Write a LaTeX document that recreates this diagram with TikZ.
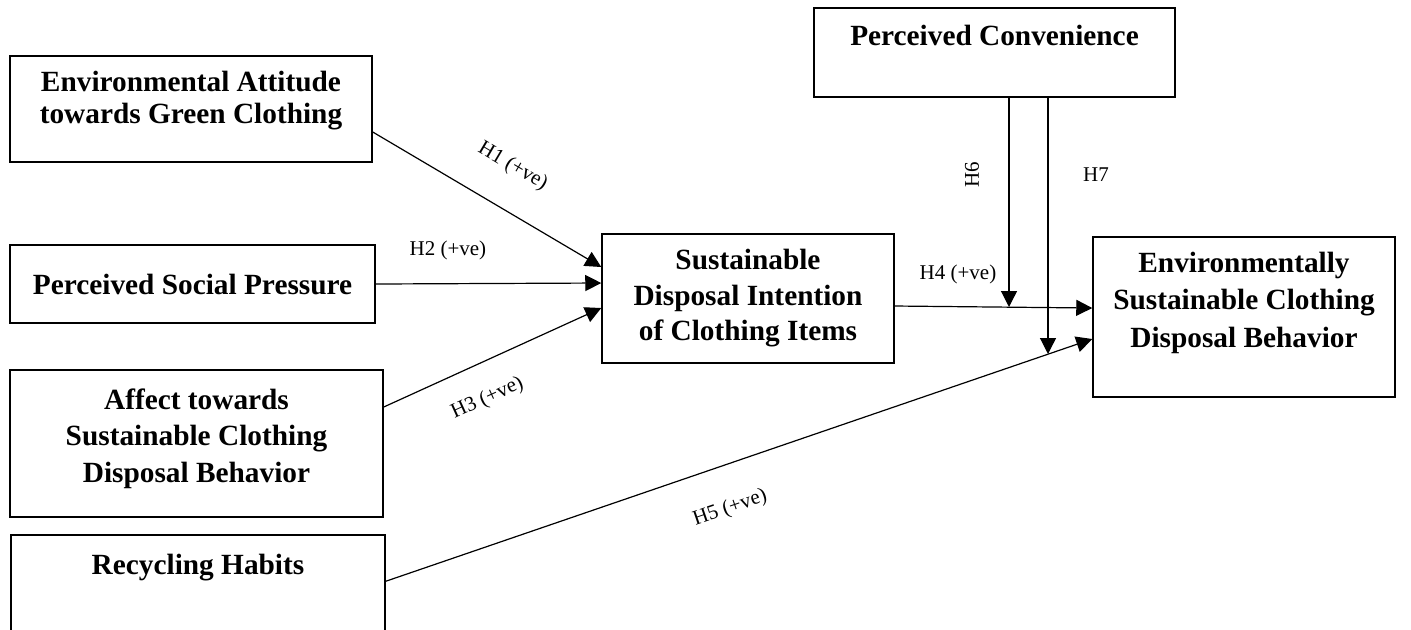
\documentclass[tikz,border=0pt]{standalone}
\usepackage{fontspec}
\setmainfont{Liberation Serif}
\usetikzlibrary{arrows.meta,calc}
\newcommand{\dropby}[1]{\rule[-#1]{0pt}{#1}}

\begin{document}
\begin{tikzpicture}[x=0.5pt,y=-0.5pt,
    box/.style={draw,line width=0.75pt,align=center,inner sep=0pt},
    leading/.style={font=\bfseries\fontsize{14.66}{#1}\selectfont},
    arr/.style={line width=0.6pt,-{Triangle[length=8pt,width=8pt]}},
    hyp/.style={inner sep=0pt,font=\fontsize{10.5}{12}\selectfont}]
  \useasboundingbox (0,0) rectangle (1411,629);
  \node[box,leading=16pt,minimum width=181pt,minimum height=53pt] (env) at (191,109) {Environmental Attitude\\towards Green Clothing\dropby{11.2pt}};
  \node[box,leading=18pt,minimum width=182.5pt,minimum height=39pt] (soc) at (192.5,284) {Perceived Social Pressure};
  \node[box,leading=18.25pt,minimum width=186.5pt,minimum height=73.5pt] (aff) at (196.5,443.5) {Affect towards\\Sustainable Clothing\\Disposal Behavior\dropby{8.2pt}};
  \node[box,leading=18pt,minimum width=187pt,minimum height=92.5pt] (rec) at (198,627.5) {Recycling Habits\dropby{62.7pt}};
  \node[box,leading=17.75pt,minimum width=146pt,minimum height=64.5pt] (sdi) at (748,298.5) {Sustainable\\Disposal Intention\\of Clothing Items};
  \node[box,leading=18pt,minimum width=180.5pt,minimum height=44.5pt] (conv) at (994.5,52.5) {Perceived Convenience\dropby{17.5pt}};
  \node[box,leading=18.75pt,minimum width=151pt,minimum height=80pt] (esc) at (1244,317) {Environmentally\\Sustainable Clothing\\Disposal Behavior\dropby{17.5pt}};
  \draw[arr] ($(env.east)+(0,23)$) -- node[hyp,sloped,above=15.7pt,pos=0.52] (l1) {H1 (+ve)} ($(sdi.west)+(0,-31.5)$);
  \draw[arr] (soc.east) -- node[hyp,above=11.7pt,pos=0.32] (l2) {H2 (+ve)} ($(sdi.west)+(0,-15.5)$);
  \draw[arr] ($(aff.east)+(0,-36.5)$) -- node[hyp,sloped,below=12.5pt,pos=0.41] (l3) {H3 (+ve)} ($(sdi.west)+(0,9.5)$);
  \draw[arr] ($(sdi.east)+(0,7.5)$) -- node[hyp,above=11.2pt,pos=0.32] (l4) {H4 (+ve)} ($(esc.west)+(0,-9)$);
  \draw[arr] ($(rec.north east)+(0,47)$) -- node[hyp,sloped,below=16.2pt,pos=0.468] (l5) {H5 (+ve)} ($(esc.west)+(0,22)$);
  \coordinate (m6) at (1009,307);
  \coordinate (m7) at (1048,354);
  \draw[arr] (conv.south -| m6) -- (m6);
  \draw[arr] (conv.south -| m7) -- (m7);
  \node[hyp,rotate=90] (l6) at (972,175) {H6};
  \node[hyp] (l7) at (1096,175) {H7};
\end{tikzpicture}
\end{document}
